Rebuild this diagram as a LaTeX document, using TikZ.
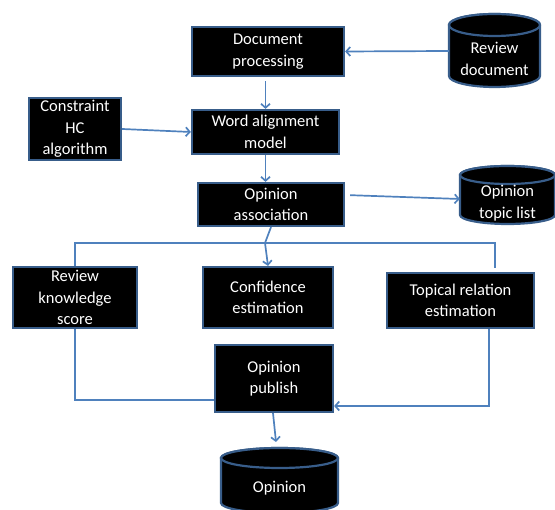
\documentclass[tikz,border=0pt]{standalone}
\usepackage{fontspec}
\setmainfont{Carlito}
\usetikzlibrary{arrows.meta}
\definecolor{lineblue}{HTML}{4F81BD}
\definecolor{edgeblue}{HTML}{385D8A}
\begin{document}
\begin{tikzpicture}[x=1bp,y=1bp,
  boxtext/.style={text=white, align=center, inner sep=0pt,
    font=\fontsize{16.5bp}{21.5bp}\selectfont},
  box/.style={boxtext, rectangle, fill=black, draw=edgeblue, line width=2.2bp},
  dbtext/.style={boxtext, rectangle},
  dbshape/.style={fill=black, draw=edgeblue, line width=2.2bp},
  conn/.style={draw=lineblue, line width=1.7bp},
  arr/.style={conn, -{Straight Barb[length=4bp,width=9bp]}}]
\useasboundingbox (0,0) rectangle (555,510);

% cylinders
% Review document: L449 R540 T496 B423 ry11
\path[dbshape] (449,485) -- (449,434) arc[start angle=180, end angle=360, x radius=45.5, y radius=11] -- (540,485) arc[start angle=0, end angle=180, x radius=45.5, y radius=11] -- cycle;
\path[dbshape] (494.5,485) ellipse[x radius=45.5, y radius=11];
% Opinion topic list: L460 R555 T344 B286 ry9
\path[dbshape] (460,335) -- (460,295) arc[start angle=180, end angle=360, x radius=47.5, y radius=9] -- (555,335) arc[start angle=0, end angle=180, x radius=47.5, y radius=9] -- cycle;
\path[dbshape] (507.5,335) ellipse[x radius=47.5, y radius=9];
% Opinion: L221 R338 T62 B-3 ry10
\path[dbshape] (221,52) -- (221,7) arc[start angle=180, end angle=360, x radius=58.5, y radius=10] -- (338,52) arc[start angle=0, end angle=180, x radius=58.5, y radius=10] -- cycle;
\path[dbshape] (279.5,52) ellipse[x radius=58.5, y radius=10];

% nodes
\node[dbtext, minimum width=91bp, minimum height=62bp] (revdoc) at (494.5,451) {Review\\document};
\node[dbtext, minimum width=95bp, minimum height=49bp] (topic) at (507.5,307) {Opinion\\topic list};
\node[dbtext, minimum width=117bp, minimum height=55bp] (opdb) at (279.5,22) {Opinion};

\node[box, minimum width=152bp, minimum height=49bp] (docproc) at (268,458.5) {Document\\processing};
\node[box, minimum width=92bp, minimum height=62bp] (chc) at (75,381) {Constraint\\HC\\algorithm};
\node[box, minimum width=147bp, minimum height=44bp] (word) at (265.5,378) {Word alignment\\model};
\node[box, minimum width=146bp, minimum height=43bp] (assoc) at (271,305.5) {Opinion\\association};
\node[box, minimum width=124bp, minimum height=61bp] (rks) at (75,212.5) {Review\\knowledge\\score};
\node[box, minimum width=130bp, minimum height=61bp] (conf) at (268,212.5) {Confidence\\estimation};
\node[box, minimum width=147bp, minimum height=55bp] (topical) at (460.5,209.5) {Topical relation\\estimation};
\node[box, minimum width=118bp, minimum height=67bp] (pub) at (274,131.5) {Opinion\\publish};

% helper coordinates
\coordinate (split) at (265,267);
\coordinate (hl) at (75,267);
\coordinate (hr) at (495,267);
\coordinate (hre) at (495,242);
\coordinate (opin) at (276,68);

% connectors
\draw[arr] ([yshift=8bp]revdoc.west) -- (docproc.east);
\draw[arr, shorten <=4bp] (docproc.south -| word.north) -- (word.north);
\draw[arr] (chc.east) -- (word.west);
\draw[arr] (word.south) -- (word.south |- assoc.north);
\draw[arr, shorten <=5bp] ([yshift=9.5bp]assoc.east) -- ([yshift=4bp]topic.west);
\draw[arr] (assoc.south) -- (split) -- (conf.north);
\draw[conn] (rks.north) -- (hl) -- (hr) -- (hre);
\draw[conn] (rks.south) |- ([yshift=-21.5bp]pub.west);
\draw[arr] ([xshift=28.5bp]topical.south) |- ([yshift=-27.5bp]pub.east);
\draw[arr] ([xshift=-1bp]pub.south) -- (opin);
\end{tikzpicture}
\end{document}
